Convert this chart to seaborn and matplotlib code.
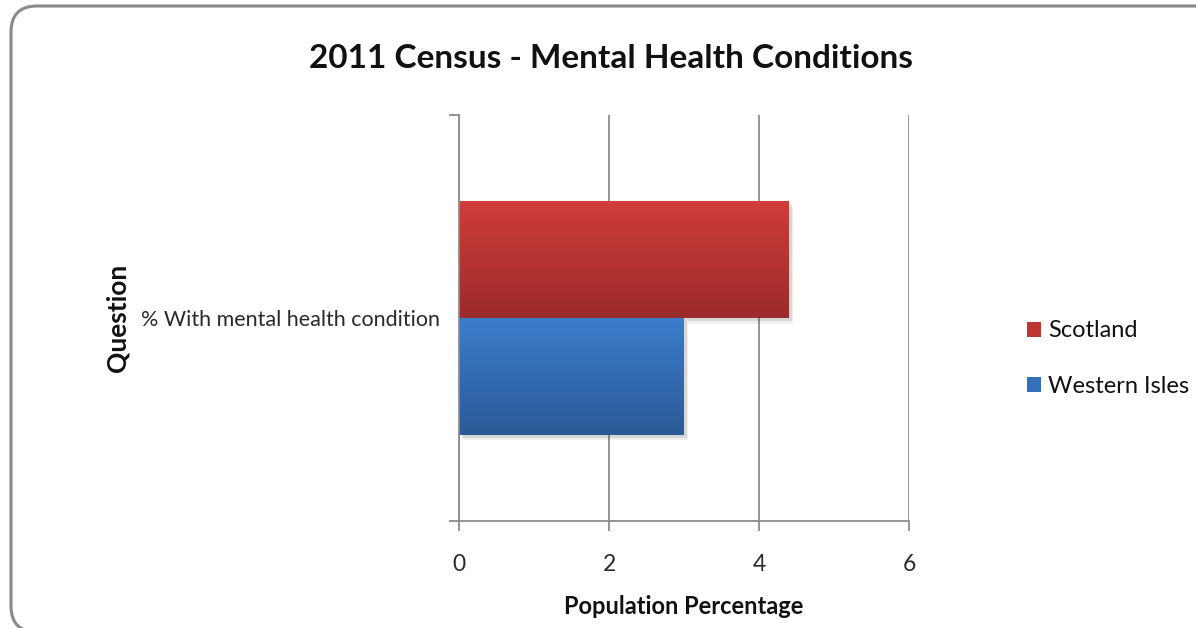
import numpy as np
import pandas as pd
import matplotlib
matplotlib.use("Agg")
import matplotlib.pyplot as plt
import matplotlib.patheffects as pe
from matplotlib.colors import LinearSegmentedColormap
from matplotlib.patches import FancyBboxPatch
from matplotlib.transforms import IdentityTransform
import seaborn as sns

# Chart data
questions = ["% With mental health condition"]
areas = ["Scotland", "Western Isles"]
scotland_values = [4.4]
western_isles_values = [3.0]
x_ticks = [0, 2, 4, 6]

title = "2011 Census - Mental Health Conditions"
x_label = "Population Percentage"
y_label = "Question"

df = pd.DataFrame({
    "question": questions * 2,
    "area": [areas[0]] * len(questions) + [areas[1]] * len(questions),
    "value": scotland_values + western_isles_values,
})

sns.set_theme(style="white")
plt.rcParams["font.family"] = ["Lato", "DejaVu Sans"]

W, H = 1196, 628
fig = plt.figure(figsize=(W / 100, H / 100), dpi=100)
ax = fig.add_axes([459 / W, 1 - 521 / H, 450 / W, 406 / H])

base_colors = {"Scotland": "#BE3634", "Western Isles": "#3470BA"}
gradients = {
    "Scotland": ("#D03D3A", "#9A2B2A"),
    "Western Isles": ("#3B7DCC", "#2B5A97"),
}

sns.barplot(data=df, x="value", y="question", hue="area", orient="h",
            palette=base_colors, width=0.575, ax=ax, saturation=1,
            edgecolor="none", linewidth=0)

# Vertical gradient fill and soft drop shadow for each bar
bars = [p for p in ax.patches if p.get_width() > 0]
for bar, area in zip(bars, areas):
    x0, y0 = bar.get_x(), bar.get_y()
    w, h = bar.get_width(), bar.get_height()
    cmap = LinearSegmentedColormap.from_list(area, list(gradients[area]))
    grad = np.linspace(0, 1, 256).reshape(-1, 1)
    im = ax.imshow(grad, cmap=cmap, aspect="auto", origin="upper",
                   extent=[x0, x0 + w, y0 + h, y0], zorder=bar.get_zorder() + 0.1,
                   interpolation="bilinear")
    im.set_clip_path(bar)
    bar.set_path_effects([
        pe.SimplePatchShadow(offset=(2, -2), shadow_rgbFace="#000000", alpha=0.10),
        pe.SimplePatchShadow(offset=(3, -4), shadow_rgbFace="#000000", alpha=0.06),
        pe.Normal(),
    ])
ax.set_xlim(0, 6)
ax.set_ylim(0.5, -0.5)

# Axes styling
grid_color = "#8C8C8C"
ax.set_xticks(x_ticks)
ax.set_xticklabels([str(t) for t in x_ticks])
ax.xaxis.grid(True, color=grid_color, linewidth=1.3)
ax.set_axisbelow(True)
for side in ["top", "right"]:
    ax.spines[side].set_visible(False)
for side in ["left", "bottom"]:
    ax.spines[side].set_color(grid_color)
    ax.spines[side].set_linewidth(1.3)

ax.tick_params(axis="x", which="major", direction="out", length=7, width=1.3,
               color=grid_color, labelsize=16.5, labelcolor="#2A2A2A", pad=17, bottom=True)
ax.set_yticks([0])
ax.set_yticklabels(questions)
ax.set_yticks([-0.5, 0.5], minor=True)
ax.tick_params(axis="y", which="major", length=0, labelsize=15.5, labelcolor="#2A2A2A", pad=14)
ax.tick_params(axis="y", which="minor", direction="out", length=7, width=1.3,
               color=grid_color, left=True)

ax.set_xlabel(x_label, fontsize=17, fontweight="bold", color="#111111")
ax.xaxis.set_label_coords(0.5, -(606 - 521) / 406)
ax.xaxis.label.set_va("center")
ax.set_ylabel(y_label, fontsize=19, fontweight="bold", color="#111111")
ax.yaxis.set_label_coords(-(459 - 118) / 450, 0.5)
ax.yaxis.label.set_va("center")

fig.text(611 / W, 1 - 58 / H, title, ha="center", va="center",
         fontsize=24, fontweight="bold", color="#111111")

sns.move_legend(ax, loc="center left", bbox_to_anchor=(1.215, 0.40), frameon=False,
                title=None, fontsize=17, handlelength=0.6, handleheight=0.6,
                handletextpad=0.28, labelspacing=1.45)
leg = ax.get_legend()
for txt in leg.get_texts():
    txt.set_color("#111111")

# Rounded chart border (pixel coordinates, runs off the right and bottom edges)
border = FancyBboxPatch((11, -4), 1400, 626,
                        boxstyle="round,pad=0,rounding_size=26",
                        transform=IdentityTransform(), facecolor="none",
                        edgecolor="#8A8A8A", linewidth=2.2, zorder=-1)
fig.patches.append(border)

fig.savefig("out.png", dpi=100, facecolor="white")
